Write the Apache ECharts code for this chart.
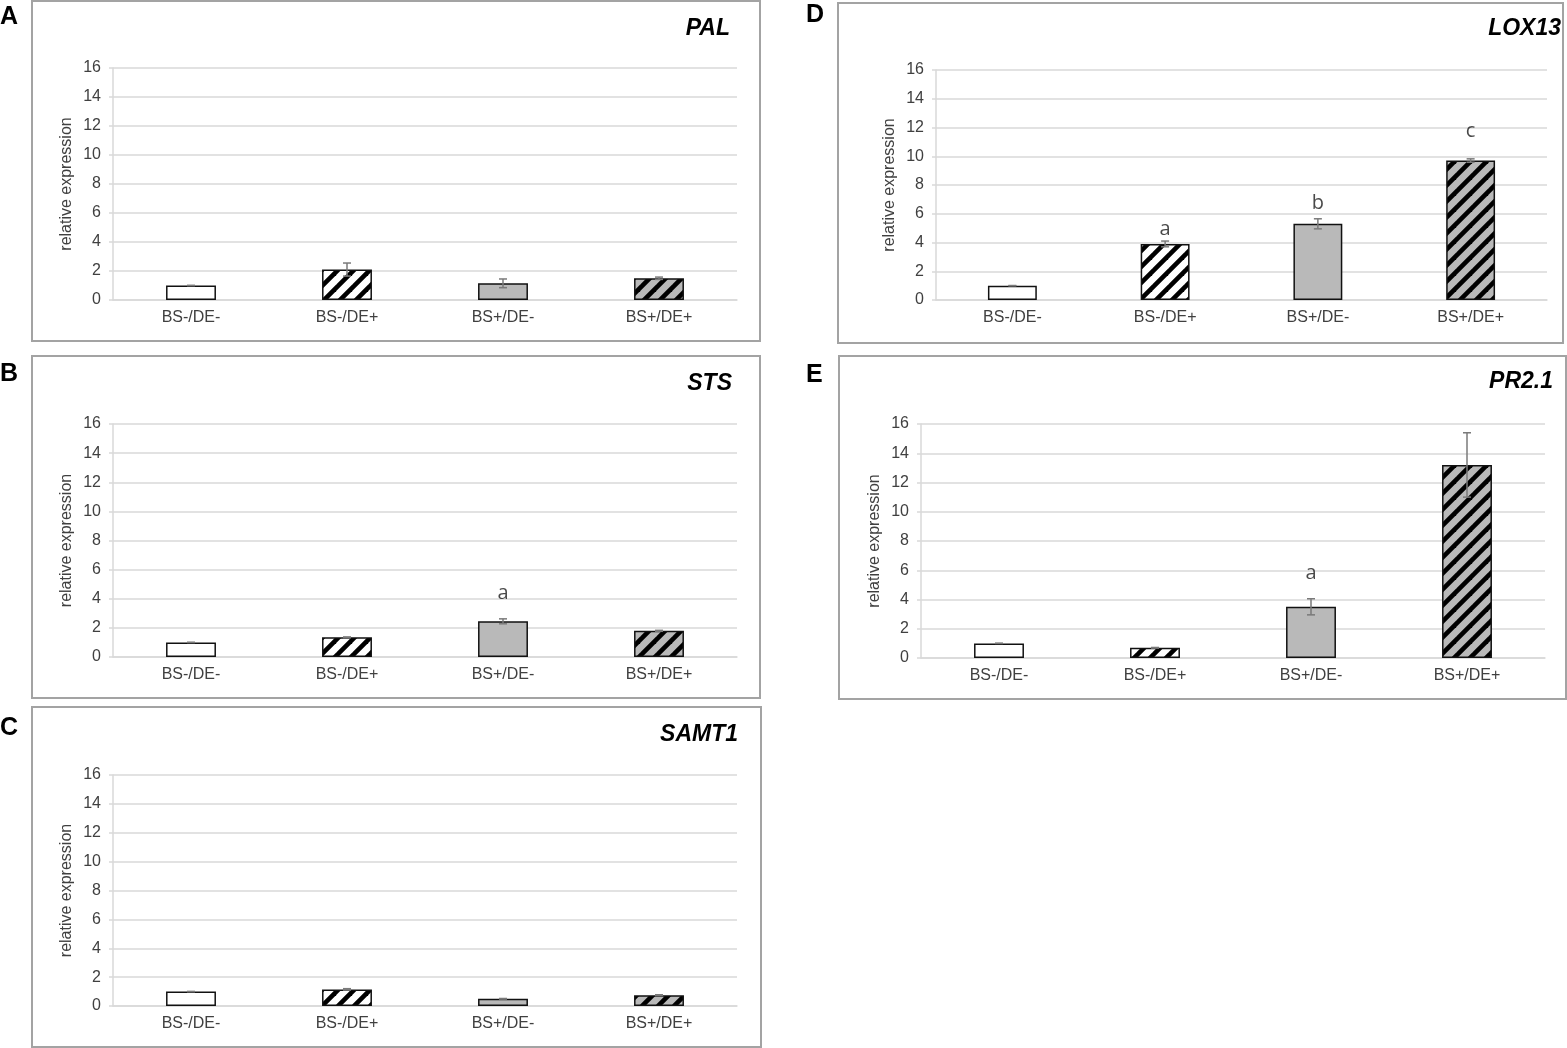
<!DOCTYPE html>
<html>
<head>
<meta charset="utf-8">
<script src="https://cdn.jsdelivr.net/npm/echarts@6/dist/echarts.min.js"></script>
<style>
  html, body { margin: 0; padding: 0; background: #fff; }
  #main { width: 1567px; height: 1048px; }
</style>
</head>
<body>
<div id="main"></div>
<script>
// treatments (same for every panel)
var categories = ['BS-/DE-', 'BS-/DE+', 'BS+/DE-', 'BS+/DE+'];
var yTicks = [0, 16, 2]; // min, max, step

// panel A - PAL
var palMean = [1.0, 2.1, 1.15, 1.5];
var palErr  = [0.0, 0.45, 0.3, 0.08];
// panel B - STS
var stsMean = [1.0, 1.35, 2.45, 1.8];
var stsErr  = [0.0, 0.03, 0.17, 0.03];
var stsLetters = ['', '', 'a', ''];
var stsLetterAt = [0, 0, 4.4, 0];
// panel C - SAMT1
var samtMean = [1.0, 1.15, 0.5, 0.75];
var samtErr  = [0.0, 0.05, 0.02, 0.03];
// panel D - LOX13
var loxMean = [1.0, 3.9, 5.3, 9.7];
var loxErr  = [0.0, 0.2, 0.35, 0.12];
var loxLetters = ['', 'a', 'b', 'c'];
var loxLetterAt = [0, 4.9, 6.75, 11.75];
// panel E - PR2.1
var prMean = [1.0, 0.7, 3.5, 13.2];
var prErr  = [0.0, 0.02, 0.55, 2.2];
var prLetters = ['', '', 'a', 'b'];
var prLetterAt = [0, 0, 5.8, 17.0];

var FONT = '"Liberation Sans", Arial, sans-serif';
var GREY = '#b9b9b9';

function stripes(bg) {
  var s = 16, c = document.createElement('canvas');
  c.width = s; c.height = s;
  var ctx = c.getContext('2d');
  ctx.fillStyle = bg; ctx.fillRect(0, 0, s, s);
  ctx.strokeStyle = '#000'; ctx.lineWidth = 4.6;
  [0, s, 2 * s].forEach(function (k) {
    ctx.beginPath(); ctx.moveTo(k - s - 2, s + 2); ctx.lineTo(k + 2, -2); ctx.stroke();
  });
  return { image: c, repeat: 'repeat' };
}
var fills = ['#ffffff', stripes('#ffffff'), GREY, stripes(GREY)];

var panels = [
  { gene: 'PAL',   tag: 'A', mean: palMean,  err: palErr,  grid: { left: 113, top: 68,  width: 624, height: 232 }, box: [32, 1, 728, 340] },
  { gene: 'STS',   tag: 'B', mean: stsMean,  err: stsErr,  letters: stsLetters, letterAt: stsLetterAt, grid: { left: 113, top: 424, width: 624, height: 233 }, box: [32, 356, 728, 342] },
  { gene: 'SAMT1', tag: 'C', mean: samtMean, err: samtErr, grid: { left: 113, top: 775, width: 624, height: 231 }, box: [32, 707, 729, 340] },
  { gene: 'LOX13', tag: 'D', mean: loxMean,  err: loxErr,  letters: loxLetters, letterAt: loxLetterAt, grid: { left: 936, top: 70,  width: 611, height: 230 }, box: [838, 3, 725, 340] },
  { gene: 'PR2.1', tag: 'E', mean: prMean,   err: prErr,   letters: prLetters,  letterAt: prLetterAt,  grid: { left: 921, top: 424, width: 624, height: 234 }, box: [839, 356, 727, 343] }
];
// title / tag anchor points
var tagPos  = [[0, 17], [0, 374], [0, 728], [806, 15], [806, 375]];
var genePos = [[730, 29], [732, 384], [738, 735], [1561, 29], [1553, 382]];

function renderErr(params, api) {
  var x = api.value(0), v = api.value(1), e = api.value(2);
  var hi = api.coord([x, v + e]), lo = api.coord([x, v - e]);
  var st = { stroke: '#7a7a7a', lineWidth: 1.5 };
  return { type: 'group', children: [
    { type: 'line', shape: { x1: hi[0], y1: hi[1], x2: lo[0], y2: lo[1] }, style: st },
    { type: 'line', shape: { x1: hi[0] - 4, y1: hi[1], x2: hi[0] + 4, y2: hi[1] }, style: st },
    { type: 'line', shape: { x1: lo[0] - 4, y1: lo[1], x2: lo[0] + 4, y2: lo[1] }, style: st }
  ] };
}

var grids = [], xAxes = [], yAxes = [], series = [], graphics = [];
panels.forEach(function (p, i) {
  grids.push(p.grid);
  xAxes.push({
    type: 'category', gridIndex: i, data: categories,
    axisLine: { lineStyle: { color: '#d9d9d9', width: 1.5 } },
    axisTick: { show: false },
    axisLabel: { color: '#404040', fontSize: 16, fontFamily: FONT, margin: 10 }
  });
  yAxes.push({
    type: 'value', gridIndex: i, min: yTicks[0], max: yTicks[1], interval: yTicks[2],
    name: 'relative expression', nameLocation: 'middle', nameGap: 38,
    nameTextStyle: { color: '#404040', fontSize: 16, fontFamily: FONT },
    axisLine: { show: true, lineStyle: { color: '#d9d9d9', width: 1.5 } },
    axisTick: { show: true, inside: false, length: 4, lineStyle: { color: '#d9d9d9', width: 1.5 } },
    axisLabel: { color: '#404040', fontSize: 16, fontFamily: FONT, margin: 12 },
    splitLine: { show: true, lineStyle: { color: '#d9d9d9', width: 1.5 } }
  });
  series.push({
    type: 'bar', xAxisIndex: i, yAxisIndex: i, barWidth: '32%', silent: true,
    data: p.mean.map(function (v, k) {
      return { value: v, itemStyle: { color: fills[k], borderColor: '#111', borderWidth: 1.5 } };
    })
  });
  series.push({
    type: 'custom', xAxisIndex: i, yAxisIndex: i, silent: true, renderItem: renderErr,
    data: p.mean.map(function (v, k) { return [k, v, p.err[k]]; }), z: 5
  });
  if (p.letters) {
    series.push({
      type: 'scatter', xAxisIndex: i, yAxisIndex: i, symbolSize: 0, silent: true,
      data: p.letters.map(function (t, k) { return t ? [k, p.letterAt[k], t] : null; }).filter(Boolean),
      label: {
        show: true, position: 'inside', formatter: function (d) { return d.value[2]; },
        color: '#1a1a1a', fontSize: 20, fontFamily: '"Open Sans", "Liberation Sans", sans-serif'
      }
    });
  }
  graphics.push({
    type: 'rect', shape: { x: p.box[0], y: p.box[1], width: p.box[2], height: p.box[3] },
    style: { fill: 'none', stroke: '#a3a3a3', lineWidth: 2 }, silent: true
  });
  graphics.push({
    type: 'text', x: tagPos[i][0], y: tagPos[i][1],
    style: { text: p.tag, font: 'bold 25px ' + FONT, fill: '#000',
      align: 'left', verticalAlign: 'middle', textAlign: 'left', textVerticalAlign: 'middle' }
  });
  graphics.push({
    type: 'text', x: genePos[i][0], y: genePos[i][1],
    style: { text: p.gene, font: 'italic bold 23px ' + FONT, fill: '#000',
      align: 'right', verticalAlign: 'middle', textAlign: 'right', textVerticalAlign: 'middle' }
  });
});

var myChart = echarts.init(document.getElementById('main'), null, { renderer: 'canvas' });
myChart.setOption({
  animation: false,
  backgroundColor: '#fff',
  grid: grids,
  xAxis: xAxes,
  yAxis: yAxes,
  series: series,
  graphic: graphics
});
</script>
</body>
</html>
